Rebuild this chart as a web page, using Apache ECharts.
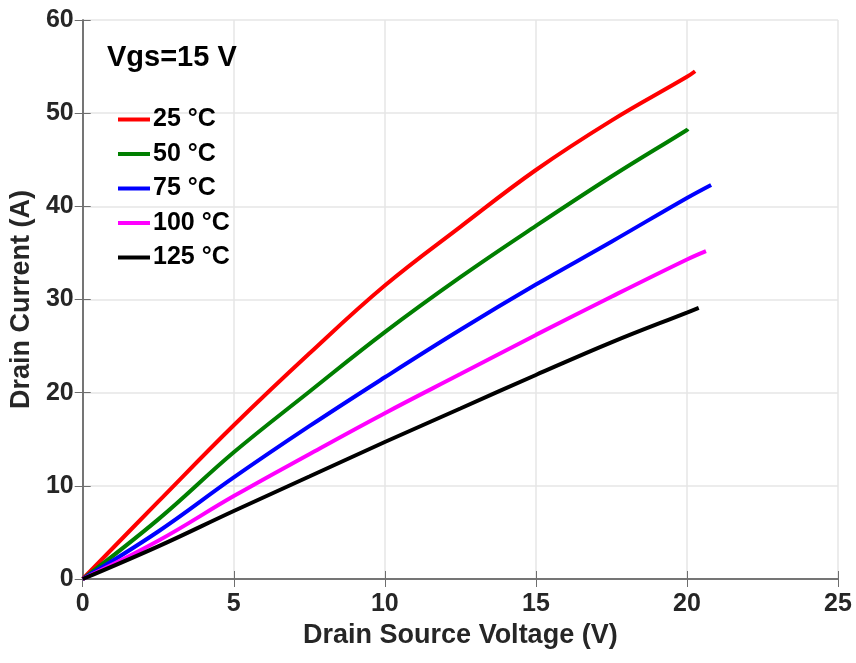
<!DOCTYPE html>
<html><head><meta charset="utf-8">
<script src="https://cdn.jsdelivr.net/npm/echarts@6/dist/echarts.min.js"></script>
<style>html,body{margin:0;padding:0;background:#fff}#c{width:856px;height:663px}</style>
</head><body><div id="c"></div>
<script>
const seriesNames = ['25 °C', '50 °C', '75 °C', '100 °C', '125 °C'];
const colors = ['#ff0000', '#007f00', '#0000ff', '#ff00ff', '#000000'];
const v = [0, 2.5, 5, 7.5, 10, 12.5, 15, 17.5, 20];
const i25 = [0, 8.3, 16.5, 24.2, 31.5, 37.8, 43.9, 49.2, 53.9];
const i50 = [0, 6.4, 13.6, 20.1, 26.5, 32.4, 37.9, 43.2, 48.2];
const i75 = [0, 5.1, 10.9, 16.4, 21.65, 26.75, 31.6, 36.2, 40.9];
const i100 = [0, 4.1, 8.9, 13.4, 17.8, 22.0, 26.2, 30.3, 34.3];
const i125 = [0, 3.5, 7.3, 11.0, 14.7, 18.3, 21.9, 25.4, 28.6];
const endV = [20.27, 20.03, 20.8, 20.63, 20.39];
const endI = [54.5, 48.3, 42.3, 35.2, 29.1];
const xTicks = [0, 5, 10, 15, 20, 25];
const yTicks = [0, 10, 20, 30, 40, 50, 60];

const curves = [i25, i50, i75, i100, i125];
const font = 'Arial, "Liberation Sans", Helvetica, sans-serif';
const chart = echarts.init(document.getElementById('c'));
const series = curves.map((arr, k) => {
  const data = [];
  v.forEach((x, j) => { if (x <= endV[k]) data.push([x, arr[j]]); });
  if (endV[k] > data[data.length - 1][0]) data.push([endV[k], endI[k]]);
  else data[data.length - 1] = [endV[k], endI[k]];
  return {
    name: seriesNames[k], type: 'line', data: data, smooth: 0.4, showSymbol: false, symbol: 'none',
    lineStyle: { color: colors[k], width: 4 }, itemStyle: { color: colors[k] }, xAxisIndex: 0, yAxisIndex: 0
  };
});
const axisLine = { show: true, lineStyle: { color: '#6e6e6e', width: 1.5 } };
const tick = { show: true, inside: true, length: 8, lineStyle: { color: '#6e6e6e' } };
chart.setOption({
  animation: false,
  backgroundColor: '#ffffff',
  title: { text: 'Vgs=15 V', left: 107, top: 43, padding: 0, textStyle: { fontFamily: font, fontSize: 29, fontWeight: 'bold', color: '#000' } },
  legend: {
    data: seriesNames, orient: 'vertical', left: 118, top: 107, padding: 0, itemWidth: 32, itemHeight: 4, itemGap: 9.5,
    icon: 'rect',
    textStyle: { fontFamily: font, fontSize: 25, fontWeight: 'bold', color: '#000', padding: [0, 0, 0, -2] }
  },
  grid: { left: 82, right: 18, top: 20, bottom: 84 },
  xAxis: [{
    type: 'value', min: 0, max: 25, interval: 5, position: 'bottom',
    name: 'Drain Source Voltage (V)', nameLocation: 'middle', nameGap: 43.5,
    nameTextStyle: { fontFamily: font, fontSize: 27, fontWeight: 'bold', color: '#262626' },
    axisLine: axisLine, axisTick: tick,
    axisLabel: { fontFamily: font, fontSize: 25, fontWeight: 'bold', color: '#262626', margin: 13 },
    splitLine: { show: true, lineStyle: { color: '#e6e6e6', width: 1.5 } }
  }, {
    type: 'value', min: 0, max: 25, interval: 5, position: 'top',
    axisLine: axisLine, axisTick: tick, axisLabel: { show: false }, splitLine: { show: false }
  }],
  yAxis: [{
    type: 'value', min: 0, max: 60, interval: 10, position: 'left',
    name: 'Drain Current (A)', nameLocation: 'middle', nameGap: 41.5,
    nameTextStyle: { fontFamily: font, fontSize: 27, fontWeight: 'bold', color: '#262626' },
    axisLine: axisLine, axisTick: tick,
    axisLabel: { fontFamily: font, fontSize: 25, fontWeight: 'bold', color: '#262626', margin: 9 },
    splitLine: { show: true, lineStyle: { color: '#e6e6e6', width: 1.5 } }
  }, {
    type: 'value', min: 0, max: 60, interval: 10, position: 'right',
    axisLine: axisLine, axisTick: tick, axisLabel: { show: false }, splitLine: { show: false }
  }],
  series: series
});
</script></body></html>
